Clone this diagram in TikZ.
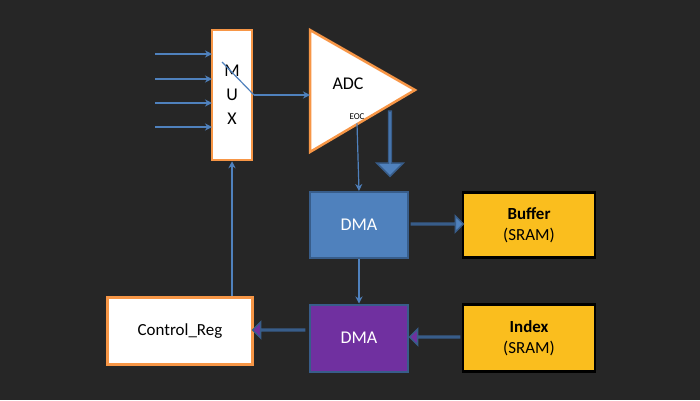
\documentclass[tikz,border=0pt]{standalone}
\usepackage{fontspec}
\setmainfont{Carlito}
\usetikzlibrary{arrows.meta,shapes.arrows}
\definecolor{bg}{RGB}{38,38,38}
\definecolor{org}{RGB}{247,150,70}
\definecolor{lblue}{RGB}{79,129,189}
\definecolor{dblue}{RGB}{56,93,138}
\definecolor{purp}{RGB}{112,48,160}
\definecolor{gold}{RGB}{250,190,30}
\begin{document}
\begin{tikzpicture}[x=1bp,y=-1bp,
  conn/.style={draw=lblue,line width=1.2pt,-{Stealth[open,length=7pt,width=7pt]}},
  obox/.style={draw=org,line width=2.5pt,fill=white,inner sep=0pt},
  sbox/.style={draw=black,line width=2.5pt,fill=gold,inner sep=0pt,align=center,font=\fontsize{17}{21}\selectfont},
  dbox/.style={draw=dblue,line width=2pt,inner sep=0pt,text=white,font=\fontsize{18}{20}\selectfont},
  barr/.style={single arrow,draw=dblue,line width=1.5pt,inner sep=0pt,single arrow head extend=7bp,minimum width=16bp}]
\fill[bg] (0,0) rectangle (700,400);
\useasboundingbox (0,0) rectangle (700,400);
% MUX
\node[obox,minimum width=40bp,minimum height=130bp,align=center,font=\fontsize{18}{24}\selectfont] (mux) at (232,95) {M\\U\\X};
\foreach \y/\n in {54/a,79/b,103/c,127/d}{
  \coordinate (in\n) at (155,\y);
  \draw[conn] (in\n) -- (212,\y);
}
% ADC
\coordinate (t1) at (310,30); \coordinate (t2) at (310,152); \coordinate (t3) at (415,90);
\draw[draw=org,line width=2.5pt,fill=white,line join=miter] (t1) -- (t3) -- (t2) -- cycle;
\node[font=\fontsize{18}{20}\selectfont] (adc) at (348,84) {ADC};
\node[font=\fontsize{9}{10}\selectfont] (eoc) at (357,117) {EOC};
\coordinate (sw1) at (222,62); \coordinate (sw2) at (254,95);
\draw[lblue,line width=1.2pt] (sw1) -- (sw2);
\draw[conn] (sw2) -- (310,95);
% DMA 1
\node[dbox,fill=lblue,minimum width=98bp,minimum height=66bp] (dma1) at (359,225) {DMA};
\node[dbox,fill=purp,minimum width=98bp,minimum height=67bp] (dma2) at (359,338) {DMA};
\draw[conn] (eoc.south) -- (dma1.north);
\draw[conn] (dma1.south) -- (dma2.north);
% buffers
\node[sbox,minimum width=132bp,minimum height=65bp] (buf) at (529,225) {\textbf{Buffer}\\(SRAM)};
\node[sbox,minimum width=132bp,minimum height=67bp] (idx) at (529,338) {\textbf{Index}\\(SRAM)};
\node[obox,minimum width=145bp,minimum height=67bp,font=\fontsize{17}{20}\selectfont] (ctrl) at (180,331) {Control\_Reg};
\draw[conn] (ctrl.north -| mux.south) -- (mux.south);
% block arrows
\node[barr,fill=lblue,rotate=-90,minimum height=65bp,minimum width=26bp,single arrow head extend=6bp] (ba1) at (390,143) {};
\node[barr,fill=lblue,minimum height=52bp] (ba2) at (437,224) {};
\node[barr,fill=purp,minimum height=50bp,shape border rotate=180] (ba3) at (435,337) {};
\node[barr,fill=purp,minimum height=52bp,shape border rotate=180] (ba4) at (279,330) {};
\end{tikzpicture}
\end{document}
